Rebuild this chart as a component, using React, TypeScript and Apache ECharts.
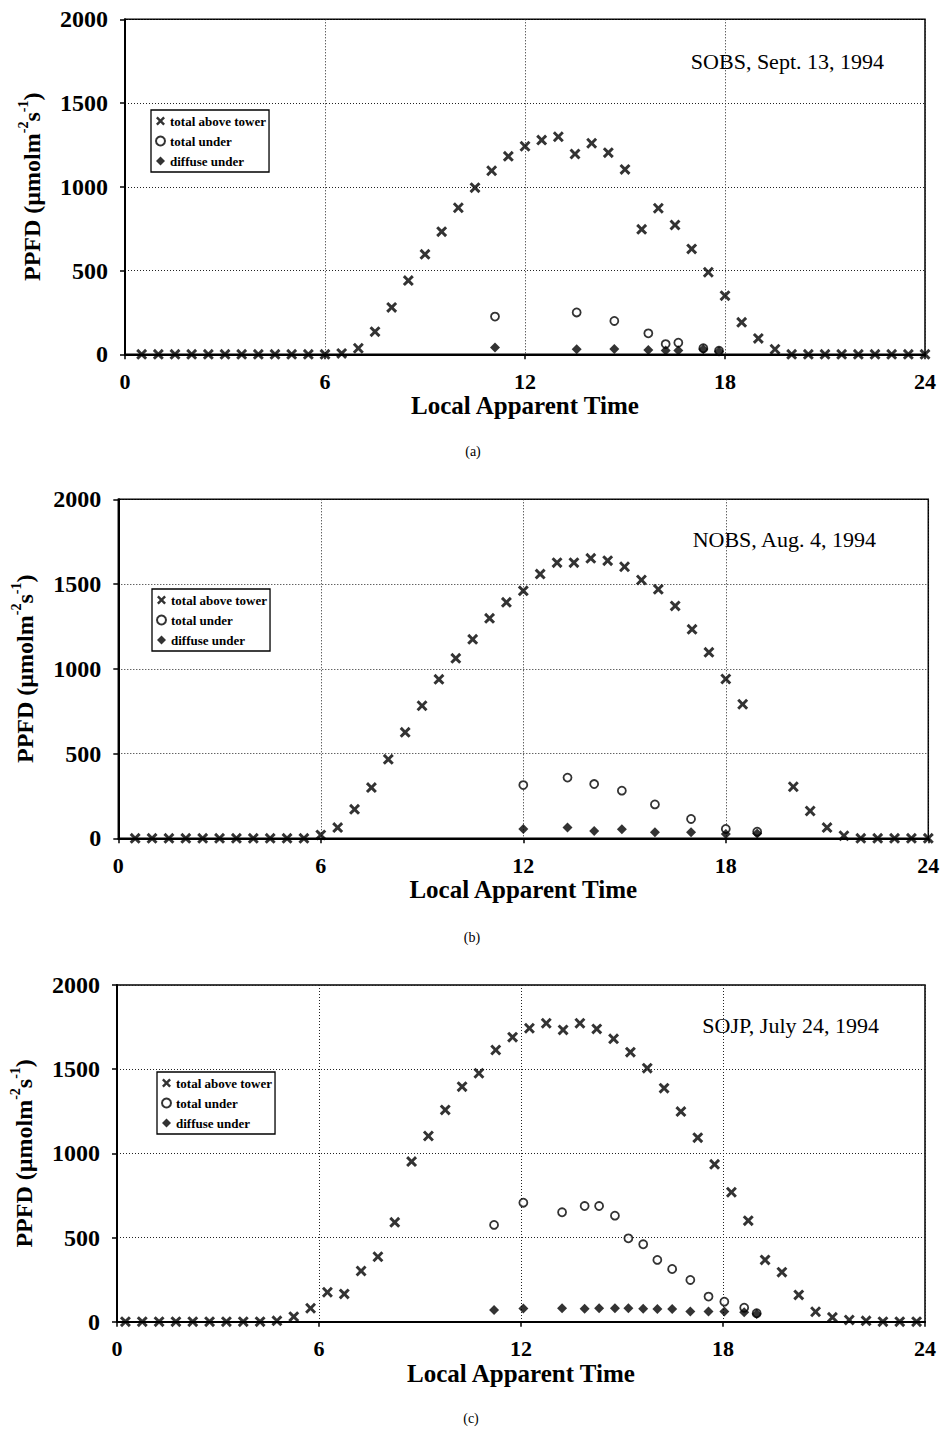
import React, { useEffect, useRef } from "react";
import * as echarts from "echarts";

// ---------- Data ----------
const seriesNames = ["total above tower", "total under", "diffuse under"];
const panelTitles = ["SOBS, Sept. 13, 1994", "NOBS, Aug. 4, 1994", "SOJP, July 24, 1994"];
const panelCaptions = ["(a)", "(b)", "(c)"];

// Panel (a)
const aboveHoursA = [0.5, 1, 1.5, 2, 2.5, 3, 3.5, 4, 4.5, 5, 5.5, 6, 6.5, 7, 7.5, 8, 8.5, 9, 9.5, 10, 10.5, 11, 11.5, 12, 12.5, 13, 13.5, 14, 14.5, 15, 15.5, 16, 16.5, 17, 17.5, 18, 18.5, 19, 19.5, 20, 20.5, 21, 21.5, 22, 22.5, 23, 23.5, 24];
const aboveA = [0, 0, 0, 0, 0, 0, 0, 0, 0, 0, 0, 0, 5, 36, 135, 280, 440, 597, 732, 875, 995, 1096, 1182, 1242, 1279, 1299, 1196, 1260, 1204, 1104, 746, 872, 772, 629, 490, 350, 191, 95, 30, 0, 0, 0, 0, 0, 0, 0, 0, 0];
const underHoursA = [11.1, 13.55, 14.68, 15.7, 16.22, 16.6, 17.35, 17.82];
const totalUnderA = [225, 250, 199, 125, 61, 69, 36, 21];
const diffuseUnderA = [40, 30, 32, 26, 22, 22, 30, 16];

// Panel (b)
const aboveHoursB = [0.5, 1, 1.5, 2, 2.5, 3, 3.5, 4, 4.5, 5, 5.5, 6, 6.5, 7, 7.5, 8, 8.5, 9, 9.5, 10, 10.5, 11, 11.5, 12, 12.5, 13, 13.5, 14, 14.5, 15, 15.5, 16, 16.5, 17, 17.5, 18, 18.5, 20, 20.5, 21, 21.5, 22, 22.5, 23, 23.5, 24];
const aboveB = [0, 0, 0, 0, 0, 0, 0, 0, 0, 0, 0, 20, 63, 171, 299, 466, 625, 782, 938, 1062, 1174, 1298, 1392, 1460, 1559, 1626, 1626, 1652, 1638, 1602, 1524, 1469, 1371, 1233, 1097, 940, 791, 304, 161, 63, 15, 0, 0, 0, 0, 0];
const underHoursB = [12.0, 13.31, 14.1, 14.92, 15.9, 16.97, 18.0, 18.93];
const totalUnderB = [314, 358, 320, 281, 200, 114, 55, 39];
const diffuseUnderB = [55, 63, 43, 53, 35, 35, 25, 29];

// Panel (c)
const aboveHoursC = [0.25, 0.75, 1.25, 1.75, 2.25, 2.75, 3.25, 3.75, 4.25, 4.75, 5.25, 5.75, 6.25, 6.75, 7.25, 7.75, 8.25, 8.75, 9.25, 9.75, 10.25, 10.75, 11.25, 11.75, 12.25, 12.75, 13.25, 13.75, 14.25, 14.75, 15.25, 15.75, 16.25, 16.75, 17.25, 17.75, 18.25, 18.75, 19.25, 19.75, 20.25, 20.75, 21.25, 21.75, 22.25, 22.75, 23.25, 23.75];
const aboveC = [0, 0, 0, 0, 0, 0, 0, 0, 0, 5, 30, 80, 175, 165, 301, 386, 590, 951, 1103, 1258, 1396, 1476, 1614, 1690, 1743, 1773, 1733, 1773, 1739, 1680, 1601, 1506, 1387, 1248, 1093, 935, 769, 600, 367, 294, 159, 59, 26, 10, 5, 0, 0, 0];
const underHoursC = [11.2, 12.07, 13.22, 13.89, 14.32, 14.79, 15.19, 15.63, 16.05, 16.49, 17.03, 17.57, 18.04, 18.63, 19.0];
const totalUnderC = [575, 707, 650, 687, 687, 630, 495, 460, 367, 313, 248, 149, 119, 83, 50];
const diffuseUnderC = [70, 78, 80, 77, 80, 80, 80, 77, 75, 75, 60, 60, 60, 56, 46];

const xTicks = { min: 0, max: 24, interval: 6 };
const yTicks = { min: 0, max: 2000, interval: 500 };

// ---------- Layout / style ----------
const FONT = '"Liberation Serif", "DejaVu Serif", serif';
const X_PATH = "path://M0,1.9L1.9,0L5,3.1L8.1,0L10,1.9L6.9,5L10,8.1L8.1,10L5,6.9L1.9,10L0,8.1L3.1,5Z";

const grids = [
  { left: 125, top: 19.3, width: 800, height: 335 },
  { left: 118.3, top: 499.3, width: 810, height: 339 },
  { left: 112.3, top: 985, width: 812.7, height: 336.7 },
];
const legendPos = [
  { left: 151, top: 110 },
  { left: 152, top: 589 },
  { left: 157, top: 1072 },
];
const titlePos = [
  { x: 884, y: 61 },
  { x: 876, y: 539 },
  { x: 879, y: 1025 },
];
const captionPos = [
  { x: 473, y: 451 },
  { x: 472, y: 937 },
  { x: 471, y: 1418 },
];

const panels = [
  { ah: aboveHoursA, a: aboveA, uh: underHoursA, tu: totalUnderA, du: diffuseUnderA },
  { ah: aboveHoursB, a: aboveB, uh: underHoursB, tu: totalUnderB, du: diffuseUnderB },
  { ah: aboveHoursC, a: aboveC, uh: underHoursC, tu: totalUnderC, du: diffuseUnderC },
];

const zip = (xs: number[], ys: number[]) => xs.map((x, i) => [x, ys[i]]);

export default function App() {
  const ref = useRef<HTMLDivElement>(null);
  useEffect(() => {
    document.body.style.margin = "0";
    const chart = echarts.init(ref.current!, null, { renderer: "svg" });

    const axisCommon = {
      axisLine: { show: true, onZero: false, lineStyle: { color: "#000", width: 2 } },
      axisTick: { show: true, length: 5, lineStyle: { color: "#000", width: 1.5 } },
      splitLine: { show: true, lineStyle: { type: [1, 2], color: "#222", width: 1 } },
    };

    const xAxis = grids.map((_, i) => ({
      type: "value",
      gridIndex: i,
      ...xTicks,
      ...axisCommon,
      axisLabel: {
        fontFamily: FONT,
        fontWeight: "bold",
        fontSize: 22,
        color: "#000",
        margin: 16,
        formatter: (v: number) => String(v),
      },
      name: "Local Apparent Time",
      nameLocation: "middle",
      nameGap: 36,
      nameTextStyle: { fontFamily: FONT, fontWeight: "bold", fontSize: 25, color: "#000" },
    }));

    const yAxis = grids.map((_, i) => ({
      type: "value",
      gridIndex: i,
      ...yTicks,
      ...axisCommon,
      axisLabel: {
        fontFamily: FONT,
        fontWeight: "bold",
        fontSize: 24,
        color: "#000",
        margin: 17,
        formatter: (v: number) => String(v),
      },
      name: "{b|PPFD (\u00b5molm}{s|-2}{b|s}{s|-1}{b|)}",
      nameLocation: "middle",
      nameGap: 81,
      nameTextStyle: {
        color: "#000",
        rich: {
          b: { fontFamily: FONT, fontWeight: "bold", fontSize: 24, color: "#000", lineHeight: 28, verticalAlign: "bottom" },
          s: { fontFamily: FONT, fontWeight: "bold", fontSize: 14, color: "#000", lineHeight: 28, verticalAlign: "top" },
        },
      },
    }));

    const series: any[] = [];
    panels.forEach((p, i) => {
      series.push({
        type: "scatter",
        name: seriesNames[0],
        xAxisIndex: i,
        yAxisIndex: i,
        symbol: X_PATH,
        symbolSize: 11,
        itemStyle: { color: "#000" },
        data: zip(p.ah, p.a),
        z: 3,
      });
      series.push({
        type: "scatter",
        name: seriesNames[1],
        xAxisIndex: i,
        yAxisIndex: i,
        symbol: "circle",
        symbolSize: 8,
        itemStyle: { color: "#fff", borderColor: "#000", borderWidth: 1.8 },
        data: zip(p.uh, p.tu),
        z: 2,
      });
      series.push({
        type: "scatter",
        name: seriesNames[2],
        xAxisIndex: i,
        yAxisIndex: i,
        symbol: "diamond",
        symbolSize: 10,
        itemStyle: { color: "#000" },
        data: zip(p.uh, p.du),
        z: 4,
      });
    });

    const legend = legendPos.map((pos) => ({
      data: seriesNames,
      orient: "vertical",
      left: pos.left,
      top: pos.top,
      itemWidth: 9,
      itemHeight: 9,
      itemGap: 6,
      padding: [4, 3, 4, 4],
      borderColor: "#000",
      borderWidth: 1.3,
      selectedMode: false,
      textStyle: { fontFamily: FONT, fontWeight: "bold", fontSize: 13, color: "#000", lineHeight: 14 },
    }));

    const graphic: any[] = [];
    titlePos.forEach((pos, i) => {
      graphic.push({
        type: "text",
        x: pos.x,
        y: pos.y,
        style: {
          text: panelTitles[i],
          fontFamily: FONT,
          fontSize: 22,
          fill: "#000",
          align: "right",
          verticalAlign: "middle",
        },
      });
    });
    captionPos.forEach((pos, i) => {
      graphic.push({
        type: "text",
        x: pos.x,
        y: pos.y,
        style: {
          text: panelCaptions[i],
          fontFamily: FONT,
          fontSize: 14,
          fill: "#000",
          align: "center",
          verticalAlign: "middle",
        },
      });
    });

    chart.setOption({
      animation: false,
      backgroundColor: "#fff",
      grid: grids.map((g) => ({ ...g, show: true, borderColor: "#000", borderWidth: 1.5 })),
      xAxis,
      yAxis,
      legend,
      series,
      graphic,
    });
    return () => chart.dispose();
  }, []);
  return <div ref={ref} style={{ width: 943, height: 1431 }} />;
}
